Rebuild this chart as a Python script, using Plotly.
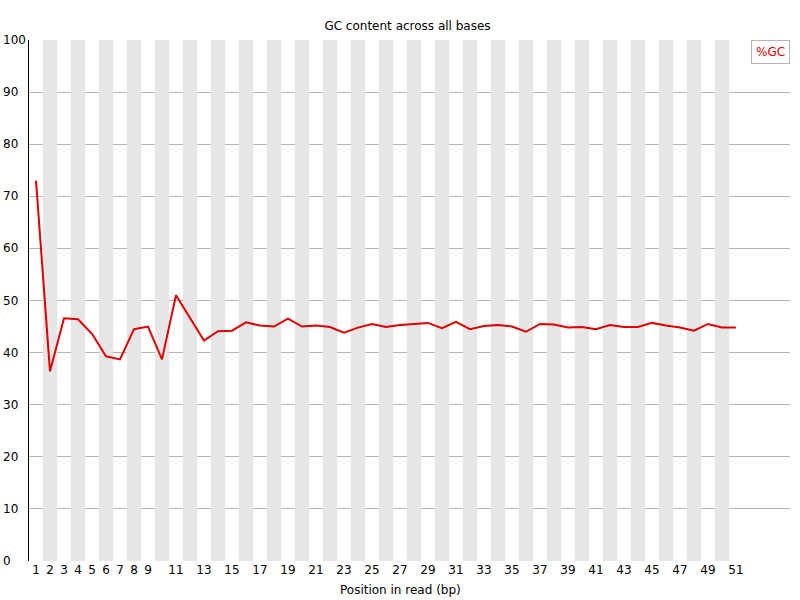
import plotly.graph_objects as go

# %GC per base position
positions = list(range(1, 52))
gc_percent = [
    73.0, 36.4, 46.6, 46.4, 43.6, 39.3, 38.7, 44.5, 45.0, 38.7,
    51.0, 46.7, 42.3, 44.1, 44.2, 45.8, 45.2, 45.0, 46.5, 45.0,
    45.2, 44.9, 43.8, 44.8, 45.5, 44.9, 45.3, 45.5, 45.7, 44.7,
    45.9, 44.5, 45.1, 45.3, 45.0, 44.0, 45.5, 45.4, 44.8, 44.9,
    44.5, 45.3, 44.9, 44.9, 45.7, 45.2, 44.8, 44.2, 45.5, 44.8,
    44.8,
]
x_tick_labels = [str(p) for p in range(1, 10)] + [str(p) for p in range(11, 52, 2)]
y_ticks = list(range(0, 101, 10))

FONT = "DejaVu Sans"
LINE_RED = "#e00000"
STRIPE = "#e6e6e6"
GRID = "#b4b4b4"

stripe_x = [p for p in positions if p % 2 == 0]

fig = go.Figure()

# alternating background columns
fig.add_trace(go.Bar(
    x=stripe_x,
    y=[100] * len(stripe_x),
    width=1,
    marker=dict(color=STRIPE, line=dict(width=0)),
    hoverinfo="skip",
    showlegend=False,
))

fig.add_trace(go.Scatter(
    x=positions,
    y=gc_percent,
    mode="lines",
    line=dict(color=LINE_RED, width=2),
    name="%GC",
    showlegend=False,
))

# y labels are left aligned in the original
for v in y_ticks:
    fig.add_annotation(
        x=0, xref="paper", xshift=-28, xanchor="left",
        y=v, yref="y", yanchor="middle",
        text=str(v), showarrow=False,
        font=dict(family=FONT, size=12, color="black"),
    )

# x axis title, centred on the image rather than the plot area
fig.add_annotation(
    x=(400 - 29) / 761, xref="paper", xanchor="center",
    y=0, yref="paper", yanchor="middle", yshift=-29,
    text="Position in read (bp)", showarrow=False,
    font=dict(family=FONT, size=12, color="black"),
)

# legend box
fig.add_annotation(
    x=1, xref="paper", y=1, yref="paper",
    xanchor="right", yanchor="top",
    text="%GC", showarrow=False,
    font=dict(family=FONT, size=12, color=LINE_RED),
    bordercolor=GRID, borderwidth=1, borderpad=4,
    bgcolor="white",
)

fig.update_layout(
    width=800, height=600,
    margin=dict(l=29, r=10, t=40, b=39),
    paper_bgcolor="white",
    plot_bgcolor="white",
    bargap=0,
    font=dict(family=FONT, size=12, color="black"),
    title=dict(
        text="GC content across all bases",
        x=407.5 / 800, xanchor="center", y=1 - 25.5 / 600, yanchor="middle",
        font=dict(family=FONT, size=12, color="black"),
    ),
    xaxis=dict(
        range=[0.5, 54.86],
        tickmode="array",
        tickvals=[int(t) for t in x_tick_labels],
        ticktext=x_tick_labels,
        showgrid=False,
        zeroline=False,
        showline=False,
        ticks="",
        automargin=False,
        tickfont=dict(family=FONT, size=12, color="black"),
    ),
    yaxis=dict(
        range=[0, 100],
        tickmode="array",
        tickvals=y_ticks,
        showticklabels=False,
        showgrid=True,
        gridcolor=GRID,
        gridwidth=1,
        zeroline=False,
        showline=True,
        linecolor="black",
        linewidth=1,
        ticks="",
        automargin=False,
        layer="above traces",
    ),
)

# drop the default 8px page margin so the figure fills the window exactly
fig.write_html(
    "out.html",
    config={"displayModeBar": False},
    post_script="document.body.style.margin = '0';",
)
